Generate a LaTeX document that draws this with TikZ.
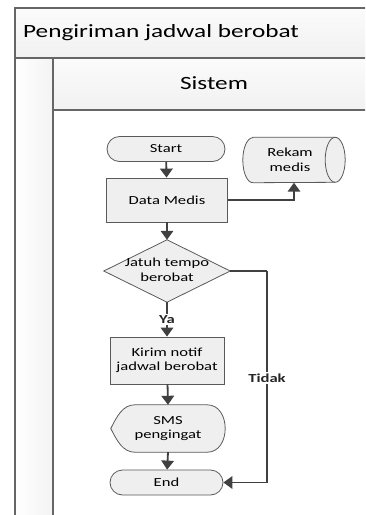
\documentclass[tikz,border=0pt]{standalone}
\usepackage{fontspec}
\setmainfont{Carlito}[FakeStretch=1.35]
\usetikzlibrary{arrows.meta}
\definecolor{lineC}{HTML}{404040}
\definecolor{borderC}{HTML}{5A5A5A}
\definecolor{fillC}{HTML}{EFEFEF}
\definecolor{poolC}{HTML}{666666}
\tikzset{
  poolline/.style={draw=poolC, line width=1.3pt},
  shapebox/.style={draw=borderC, line width=0.8pt, fill=fillC},
  txt/.style={font=\fontsize{12.3}{14.5}\selectfont, align=center, inner sep=0pt},
  procbox/.style={shapebox, txt, minimum width=#1, minimum height=44pt},
  termbox/.style={shapebox, txt, rounded corners=12.5pt, minimum height=25pt, minimum width=#1},
  ghost/.style={txt},
  arr/.style={draw=lineC, line width=1.8pt, -{Triangle[length=9pt,width=12.5pt]}},
  conn/.style={draw=lineC, line width=1.8pt},
  lbl/.style={font=\fontsize{12.3}{14.5}\selectfont\bfseries, fill=white, inner sep=1.5pt, text=black!85}
}
\begin{document}
\begin{tikzpicture}[x=1pt,y=1pt]
\useasboundingbox (0,0) rectangle (365,-515);
\clip (0,0) rectangle (365,-515);
\fill[white] (0,0) rectangle (365,-515);
% pool
\shade[top color=gray!3, bottom color=gray!11] (15,-8) rectangle (380,-58);
\shade[left color=white, right color=gray!9] (15,-58) rectangle (53,-530);
\shade[top color=gray!3, bottom color=gray!11] (53,-58) rectangle (380,-110);
\draw[poolline] (380,-8) -- (15,-8) -- (15,-530);
\draw[poolline] (15,-58) -- (380,-58);
\draw[poolline] (53,-58) -- (53,-530);
\draw[poolline] (53,-110) -- (380,-110);
\node[anchor=west, font=\fontsize{18.7}{22}\selectfont, inner sep=0pt] (pooltitle) at (23,-33) {Pengiriman jadwal berobat};
\node[font=\fontsize{18.7}{22}\selectfont, inner sep=0pt] (lanetitle) at (214,-83) {Sistem};
% nodes
\node[termbox=118pt] (start) at (166,-149) {Start};
\node[procbox=121pt] (data) at (167,-200) {Data Medis};
\node[ghost, minimum width=102pt, minimum height=45pt] (rekam) at (294,-160) {};
\draw[shapebox] ([xshift=10pt]rekam.north west) -- ([xshift=-10pt]rekam.north east)
  arc[start angle=90, end angle=-90, x radius=10pt, y radius=22.5pt]
  -- ([xshift=10pt]rekam.south west)
  arc[start angle=270, end angle=90, x radius=10pt, y radius=22.5pt] -- cycle;
\draw[draw=borderC, line width=0.8pt] ([xshift=-10pt]rekam.north east)
  arc[start angle=90, end angle=270, x radius=10pt, y radius=22.5pt];
\node[txt] at ([xshift=-4pt]rekam.center) {Rekam\\medis};
\node[ghost, minimum width=126pt, minimum height=62pt] (dec) at (167,-271) {};
\draw[shapebox] (dec.west) -- (dec.north) -- (dec.east) -- (dec.south) -- cycle;
\node[txt] at ([yshift=1pt]dec.center) {Jatuh tempo\\berobat};
\node[procbox=114pt, minimum height=47pt] (kirim) at (167,-360.5) {Kirim notif\\jadwal berobat};
\node[ghost, minimum width=114pt, minimum height=47pt] (sms) at (168,-428.5) {};
\draw[shapebox] (sms.west) .. controls +(6,12) and +(-12,0) .. ([xshift=24pt]sms.north west)
  -- ([xshift=-18pt]sms.north east) .. controls +(24,0) and +(24,0) .. ([xshift=-18pt]sms.south east)
  -- ([xshift=24pt]sms.south west) .. controls +(-12,0) and +(6,-12) .. (sms.west) -- cycle;
\node[txt] at (sms.center) {SMS\\pengingat};
\node[termbox=113pt] (end) at (166.5,-482.5) {End};
% connectors
\draw[arr] (start) -- (data);
\draw[arr] (data.east) -| (rekam.south);
\draw[arr] (data) -- (dec);
\draw[arr] (dec.south) -- (kirim.north) node[lbl, pos=0.5] (ya) {Ya};
\draw[arr] (kirim) -- (sms.north);
\draw[arr] (sms.south) -- (end);
\coordinate (tk) at (267,-271);
\draw[conn] (dec.east) -- (tk);
\draw[arr] (tk) |- (end.east);
\node[lbl] (tidak) at (267,-378) {Tidak};
\end{tikzpicture}
\end{document}
